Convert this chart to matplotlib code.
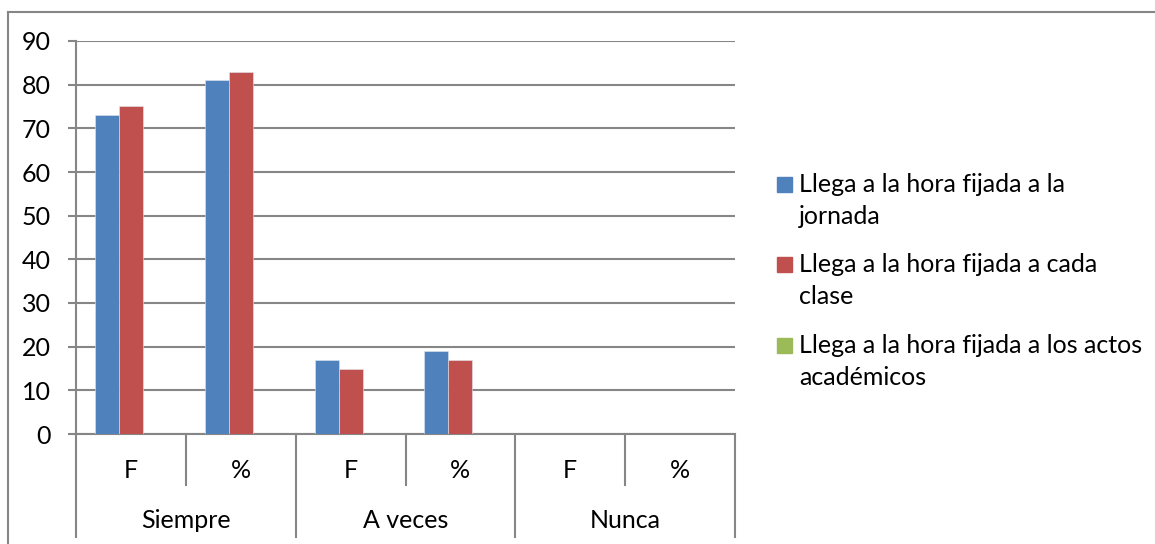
import matplotlib
matplotlib.use("Agg")
import matplotlib.pyplot as plt
import matplotlib.transforms as mtransforms
from matplotlib.patches import Rectangle
from matplotlib.lines import Line2D
import numpy as np

plt.rcParams['font.family'] = ['Lato', 'DejaVu Sans']

groups = ["Siempre", "A veces", "Nunca"]
subcats = ["F", "%", "F", "%", "F", "%"]
series_lines = [["Llega a la hora fijada a la", "jornada"],
                ["Llega a la hora fijada a cada", "clase"],
                ["Llega a la hora fijada a los actos", "académicos"]]
jornada = [73, 81, 17, 19, 0, 0]
clase = [75, 83, 15, 17, 0, 0]
actos = [0, 0, 0, 0, 0, 0]
colors = ["#4F81BD", "#C0504D", "#9BBB59"]
yticks = [0, 10, 20, 30, 40, 50, 60, 70, 80, 90]

FS = 18
W, H = 1155, 544
fig = plt.figure(figsize=(W / 100, H / 100), dpi=100)
fig.patch.set_facecolor("white")

def fx(px):
    return px / W

def fy(py):
    return 1 - py / H

ax_l, ax_r, ax_t, ax_b = 76, 735, 41, 434
ax = fig.add_axes([fx(ax_l), fy(ax_b), fx(ax_r - ax_l), (ax_b - ax_t) / H])

grid_c = "#868686"
x = np.arange(len(subcats))
bw = 24 / 110
for i, (vals, c) in enumerate(zip([jornada, clase, actos], colors)):
    ax.bar(x + (i - 1) * bw, vals, width=bw, color=c, edgecolor="#dfe6ef",
           linewidth=0.4, zorder=3)

ax.set_xlim(-0.5, len(subcats) - 0.5)
ax.set_ylim(0, 90)
ax.set_yticks(yticks)
ax.yaxis.grid(True, color=grid_c, linewidth=1.5, zorder=0)
ax.set_axisbelow(True)
for s in ["top", "right"]:
    ax.spines[s].set_visible(False)
ax.spines["left"].set_color(grid_c)
ax.spines["left"].set_linewidth(1.5)
ax.spines["bottom"].set_color(grid_c)
ax.spines["bottom"].set_linewidth(1.5)
ax.tick_params(axis="y", length=6, width=1.5, color=grid_c, pad=12, labelsize=FS)
ax.set_xticks([])
for t in ax.get_yticklabels():
    t.set_color("black")

# multi-level category axis
trans = mtransforms.blended_transform_factory(ax.transData, ax.transAxes)
def ay(py):
    return -(py - ax_b) / (ax_b - ax_t)
for k in range(len(subcats) + 1):
    xb = k - 0.5
    y_end = ay(537) if k % 2 == 0 else ay(485)
    ax.add_line(Line2D([xb, xb], [0, y_end], transform=trans, color=grid_c,
                       linewidth=1.5, clip_on=False))
for k, s in enumerate(subcats):
    ax.text(k, ay(470), s, transform=trans, ha="center", va="center", fontsize=FS)
for g, name in enumerate(groups):
    ax.text(2 * g + 0.5, ay(521), name, transform=trans, ha="center", va="center",
            fontsize=FS)

# outer chart border (left and top visible)
fig.add_artist(Line2D([fx(8), fx(8)], [fy(12), fy(H + 5)], transform=fig.transFigure,
                      color=grid_c, linewidth=1.5))
fig.add_artist(Line2D([fx(8), fx(W + 5)], [fy(12), fy(12)], transform=fig.transFigure,
                      color=grid_c, linewidth=1.5))

# legend
leg_base = [192, 272, 353]
for lines, c, yb in zip(series_lines, colors, leg_base):
    fig.add_artist(Rectangle((fx(777), fy(yb)), fx(15), 15 / H,
                             transform=fig.transFigure, color=c))
    for j, ln in enumerate(lines):
        fig.text(fx(799), fy(yb + 32 * j), ln, ha="left", va="baseline", fontsize=FS)

fig.savefig("out.png", dpi=100)
